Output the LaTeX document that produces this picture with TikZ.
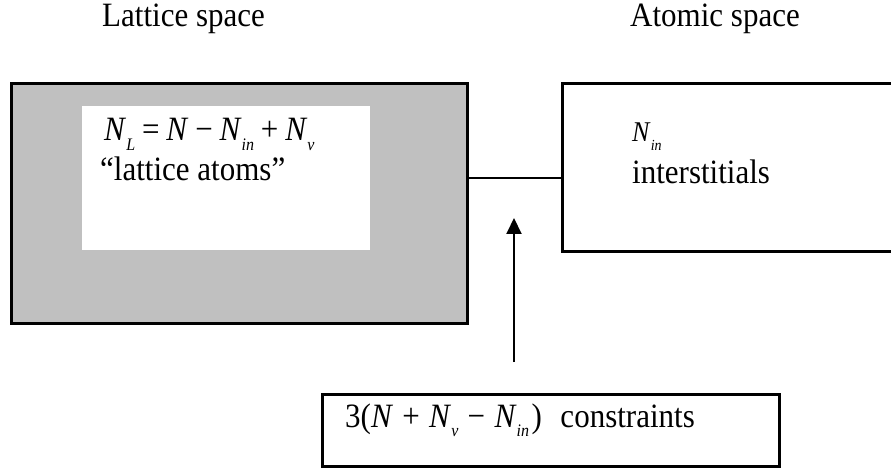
\documentclass[tikz,border=0pt]{standalone}
\usepackage{fontspec}
\usepackage{graphicx}
\setmainfont{Liberation Serif}
\usetikzlibrary{arrows.meta}
\definecolor{boxgray}{RGB}{192,192,192}
\newcommand\bigtxt{\fontsize{31}{37}\selectfont}
\newcommand\tall[1]{\scalebox{1}[1.1]{#1}}
\newcommand\mN{\textit{N}}
\newcommand\msub[1]{\raisebox{-0.28em}{\fontsize{16}{16}\selectfont\textit{#1}}}
\newcommand\ssub[1]{\raisebox{-0.3em}{\fontsize{14}{14}\selectfont\textit{#1}}}
\newcommand\mop[1]{\hspace{0.22em}#1\hspace{0.22em}}
\newcommand\wop[1]{\hspace{0.3em}#1\hspace{0.3em}}
\tikzset{
  box/.style={draw=black, line width=2.6pt, inner sep=0pt, anchor=north west},
  txt/.style={inner sep=0pt, anchor=base west, font=\bigtxt},
  conn/.style={draw=black, line width=2pt},
  arr/.style={draw=black, line width=2pt, -{Triangle[length=16pt,width=15pt]}}
}
\begin{document}
\begin{tikzpicture}[x=1pt,y=-1pt]
\useasboundingbox[fill=white] (0,0) rectangle (891,470);
% titles
\node[txt] (lt) at (102,27) {\tall{Lattice space}};
\node[txt] (at) at (630,27) {\tall{Atomic space}};
% lattice box
\node[box, fill=boxgray, minimum width=456pt, minimum height=240pt] (lat) at (10,82) {};
\node[inner sep=0pt, anchor=north west, fill=white, minimum width=288pt, minimum height=144pt] (latin) at (82,106) {};
\node[txt] (eq1) at (104,141) {\tall{\mN\msub{L}\mop{=}\mN\mop{−}\mN\msub{in}\mop{+}\mN\msub{v}}};
\node[txt] (la) at (100,181) {\tall{“lattice atoms”}};
% atomic box
\node[txt, font=\fontsize{26}{30}\selectfont] (nin) at (632,142) {\tall{\mN\ssub{in}}};
\node[box, minimum width=400pt, minimum height=168pt] (atom) at (561,82) {};
\node[txt] (inter) at (632,184) {\tall{interstitials}};
% constraints box
\node[box, minimum width=457pt, minimum height=72pt] (cons) at (321,393) {};
\node[txt] (eq2) at (345,427) {\tall{3(\mN\wop{+}\mN\msub{v}\wop{−}\mN\msub{in}\hspace{0.08em})\hspace{0.6em}constraints}};
% connectors
\coordinate (cy) at (0,178);
\draw[conn] (lat.east |- cy) -- (atom.west |- cy);
\coordinate (atail) at (514,362);
\coordinate (ahead) at (514,218);
\draw[arr] (atail) -- (ahead);
\end{tikzpicture}
\end{document}
